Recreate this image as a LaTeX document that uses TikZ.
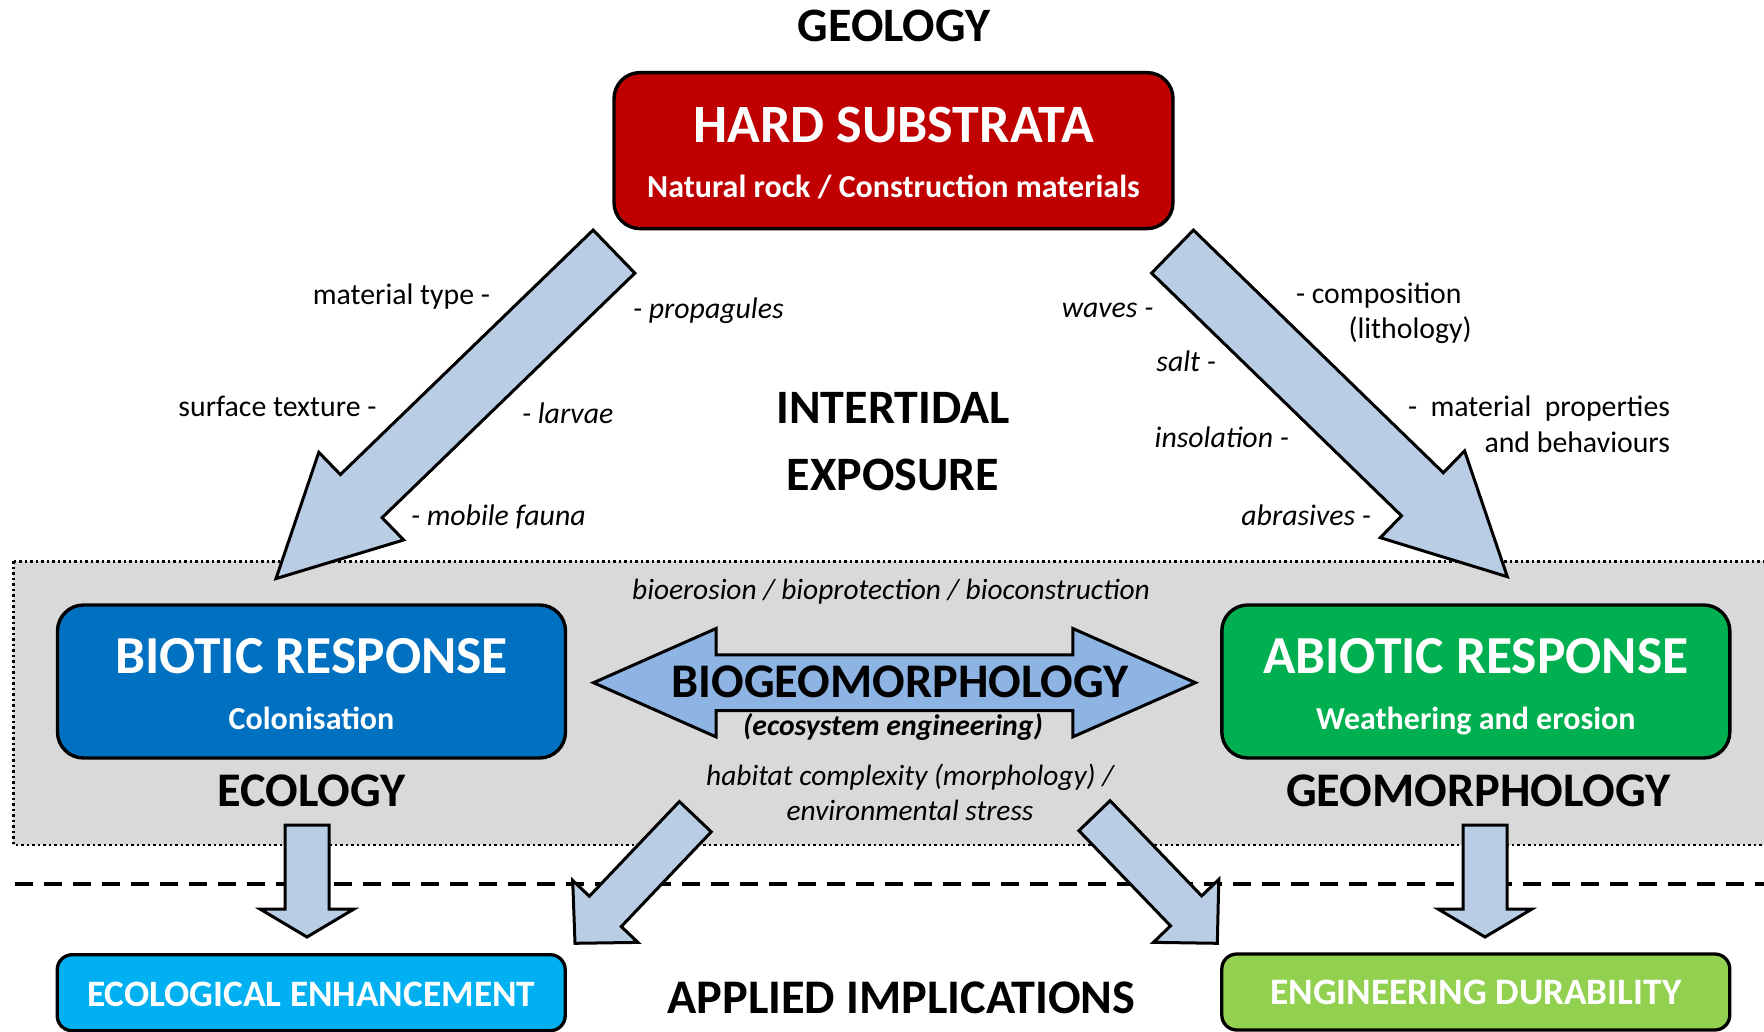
\documentclass[tikz,border=0pt]{standalone}
\usepackage{fontspec}
\setmainfont{Carlito}
\usetikzlibrary{calc,positioning}

\definecolor{rockred}{HTML}{C00000}
\definecolor{bioblue}{HTML}{0070C0}
\definecolor{abiogreen}{HTML}{00B050}
\definecolor{ecocyan}{HTML}{00B0F0}
\definecolor{englime}{HTML}{92D050}
\definecolor{arrowfill}{HTML}{B9CDE5}
\definecolor{bgmfill}{HTML}{8EB4E3}
\definecolor{zonegrey}{HTML}{D9D9D9}

\newcommand\fsz[1]{\fontsize{#1}{#1}\selectfont}

% block arrow: from, to, shaft half width, head half width, head length
\newcommand\blockarrow[5]{%
  \coordinate (ba) at ($(#2)!#5!(#1)$);
  \draw[fatarrow] ($(#1)!#3!90:(#2)$) -- ($(ba)!#3!90:(#2)$) -- ($(ba)!#4!90:(#2)$) -- (#2)
    -- ($(ba)!#4!-90:(#2)$) -- ($(ba)!#3!-90:(#2)$) -- ($(#1)!#3!-90:(#2)$) -- cycle;
}

\begin{document}
\begin{tikzpicture}[x=1pt, y=-1pt,
    every node/.style={inner sep=0pt, outer sep=0pt},
    box/.style={draw, line width=3.4pt, rounded corners=26pt, minimum width=508pt, minimum height=153pt},
    smallbox/.style={draw, line width=3.3pt, rounded corners=15pt, minimum width=508pt, minimum height=76pt},
    boxtitle/.style={text=white, font=\fsz{53.5}\bfseries, anchor=base},
    boxsub/.style={text=white, font=\fsz{32}\bfseries, anchor=base},
    heading/.style={font=\fsz{48.3}\bfseries, anchor=base},
    side/.style={font=\fsz{29.8}},
    sideit/.style={font=\fsz{29.8}\itshape},
    fatarrow/.style={draw, line width=3pt, fill=arrowfill, line join=miter}
  ]

  \useasboundingbox (0,0) rectangle (1764,1032);

  % intertidal zone and divider
  \draw[fill=zonegrey, line width=2.5pt, dash pattern=on 2.5pt off 3pt] (13.4,561.4) rectangle (1780,845);
  \draw[line width=4pt, dash pattern=on 18pt off 11pt] (14.5,884) -- (1764,884);

  % Nodes
  \node[heading, font=\fsz{48}\bfseries] (geology) at (894,42) {GEOLOGY};
  \node[box, fill=rockred, minimum width=559pt, minimum height=156pt] (hard) at (893.5,150.6) {};
  \node[boxtitle, font=\fsz{54}\bfseries] (hardtitle) at ([yshift=7.9pt]hard.center) {HARD SUBSTRATA};
  \node[boxsub] (hardsub) at ([yshift=-47.4pt]hard.center) {Natural rock / Construction materials};

  \node[heading, align=center, font=\fontsize{48}{67}\selectfont\bfseries] (intertidal) at (893,490) {INTERTIDAL\\EXPOSURE};

  \node[box, fill=bioblue] (biotic) at (311.5,681.5) {};
  \node[boxtitle] (biotictitle) at ([yshift=7.6pt]biotic.center) {BIOTIC RESPONSE};
  \node[boxsub] (bioticsub) at ([yshift=-48.2pt]biotic.center) {Colonisation};
  \node[heading] (ecology) at ([yshift=-48pt]biotic.south) {ECOLOGY};

  \node[box, fill=abiogreen] (abiotic) at (1475.8,681.5) {};
  \node[boxtitle] (abiotictitle) at ([yshift=7.6pt]abiotic.center) {ABIOTIC RESPONSE};
  \node[boxsub] (abioticsub) at ([yshift=-48.2pt]abiotic.center) {Weathering and erosion};
  \node[heading] (geomorph) at ([xshift=2.6pt,yshift=-48pt]abiotic.south) {GEOMORPHOLOGY};

  \node[smallbox, fill=ecocyan] (ecoenh) at (311.2,992.7) {};
  \node[boxsub, font=\fsz{37.3}\bfseries] (ecoenhtext) at ([yshift=-13.3pt]ecoenh.center) {ECOLOGICAL ENHANCEMENT};
  \node[smallbox, fill=englime] (engdur) at (1475.8,992) {};
  \node[boxsub, font=\fsz{37.3}\bfseries] (engdurtext) at ([yshift=-12pt]engdur.center) {ENGINEERING DURABILITY};
  \node[heading] (applied) at (901.5,1013) {APPLIED IMPLICATIONS};

  % big arrows from the substrate
  \coordinate (diagLs) at ([yshift=-23pt]hard.south west);
  \coordinate (diagLe) at ([xshift=-35.5pt,yshift=26.4pt]biotic.north);
  \blockarrow{diagLs}{diagLe}{30pt}{61pt}{118.6pt}
  \coordinate (diagRs) at ([xshift=-0.5pt,yshift=-23pt]hard.south east);
  \coordinate (diagRe) at ([xshift=31.5pt,yshift=28.3pt]abiotic.north);
  \blockarrow{diagRs}{diagRe}{30pt}{60.5pt}{118.3pt}

  % biogeomorphology double arrow
  \coordinate (bgmL) at (593.5,682.7);
  \coordinate (bgmR) at (1195.4,682.7);
  \coordinate (dl) at ($(bgmL)!122.6pt!(bgmR)$);
  \coordinate (dr) at ($(bgmR)!122.6pt!(bgmL)$);
  \draw[fatarrow, fill=bgmfill] (bgmL) -- ($(dl)!54.2pt!90:(bgmR)$) -- ($(dl)!27.8pt!90:(bgmR)$)
    -- ($(dr)!27.8pt!-90:(bgmL)$) -- ($(dr)!54.2pt!-90:(bgmL)$) -- (bgmR)
    -- ($(dr)!54.2pt!90:(bgmL)$) -- ($(dr)!27.8pt!90:(bgmL)$)
    -- ($(dl)!27.8pt!-90:(bgmR)$) -- ($(dl)!54.2pt!-90:(bgmR)$) -- cycle;
  \node[heading] (bgm) at (900,697) {BIOGEOMORPHOLOGY};
  \node[font=\fsz{29.7}\bfseries\itshape, anchor=base] (ecoeng) at (893,735.5) {(ecosystem engineering)};
  \node[sideit, anchor=base, font=\fsz{29.4}\itshape] (bioero) at (891,599.6) {bioerosion / bioprotection / bioconstruction};
  \node[anchor=base, align=center, font=\fontsize{29.4}{35.5}\selectfont\itshape] (habitat) at (910,820.5) {habitat complexity (morphology) /\\environmental stress};

  % arrows to the applied implications
  \coordinate (downLs) at (307,825);
  \coordinate (downLe) at (307,937);
  \blockarrow{downLs}{downLe}{22pt}{47pt}{28pt}
  \coordinate (downRs) at (1485,825);
  \coordinate (downRe) at (1485,937);
  \blockarrow{downRs}{downRe}{22pt}{47pt}{28pt}
  \coordinate (smallLs) at (695.3,816.7);
  \coordinate (smallLe) at (575,943.3);
  \blockarrow{smallLs}{smallLe}{22pt}{45pt}{44pt}
  \coordinate (smallRs) at (1094.5,815.7);
  \coordinate (smallRe) at (1217.3,943.3);
  \blockarrow{smallRs}{smallRe}{21.6pt}{45.4pt}{45pt}

  % factors along the arrows
  \node[side, anchor=base east] (mattype) at (490,305) {material type -};
  \node[side, anchor=base east] (surftex) at (376.5,416) {surface texture -};
  \node[sideit, anchor=base west] (propag) at (633,318.4) {- propagules};
  \node[sideit, anchor=base west] (larvae) at (522,423) {- larvae};
  \node[sideit, anchor=base west] (mobile) at (411,525.8) {- mobile fauna};
  \node[sideit, anchor=base east] (waves) at (1153.4,317.6) {waves -};
  \node[sideit, anchor=base east] (salt) at (1216,371) {salt -};
  \node[sideit, anchor=base east] (insol) at (1289,447.8) {insolation -};
  \node[sideit, anchor=base east] (abras) at (1371,525.5) {abrasives -};
  \node[side, anchor=base west] (compos) at (1296,304) {- composition};
  \node[side, anchor=base west] (litho) at (1348.5,338.7) {(lithology)};
  \node[anchor=base east, align=right, font=\fontsize{29.8}{36}\selectfont] (matprop) at (1670,452) {-\ \ material\ \ properties\\and behaviours};
\end{tikzpicture}
\end{document}
